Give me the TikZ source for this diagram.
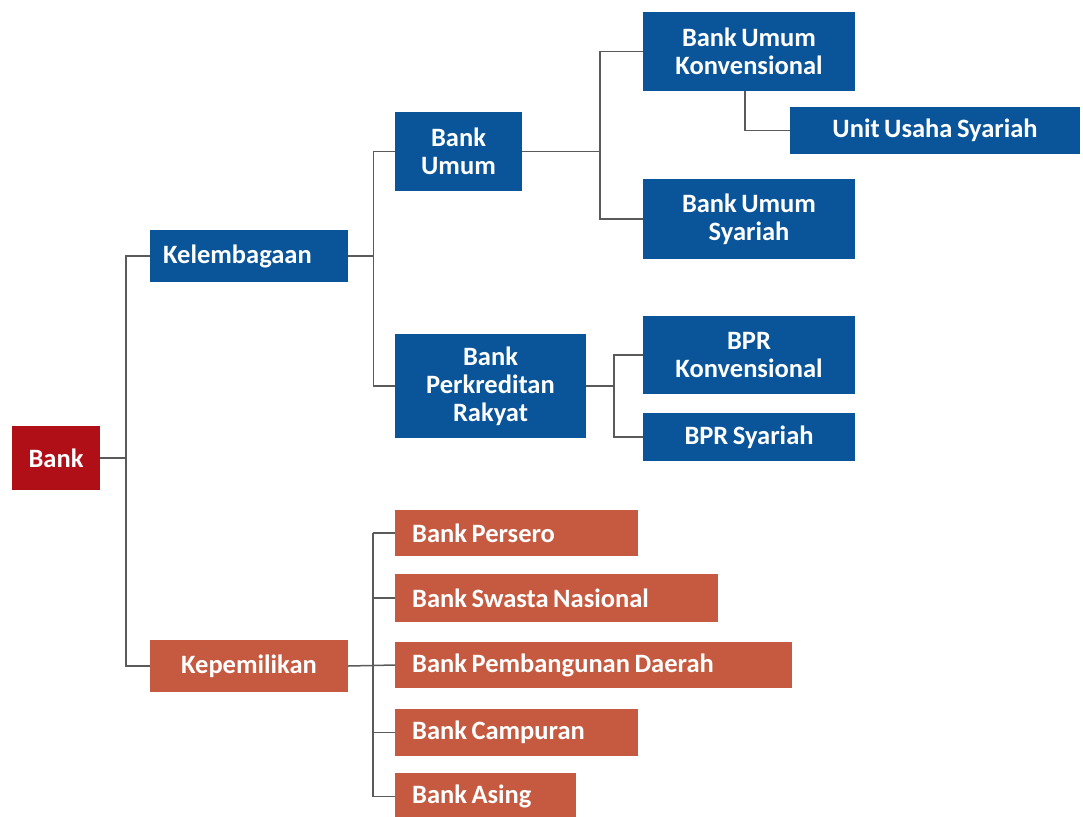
\documentclass[tikz,border=0pt]{standalone}
\usepackage{fontspec}
\setmainfont{Carlito}[WordSpace=0.75]
\definecolor{bblue}{HTML}{0A5499}
\definecolor{bred}{HTML}{B10F17}
\definecolor{borange}{HTML}{C55A40}
\definecolor{lgray}{HTML}{5A5A5A}
\tikzset{
  box/.style={draw=none, text=white, inner sep=0pt, align=center,
    font=\fontsize{26.5}{28}\selectfont\bfseries},
  bluebox/.style={box, fill=bblue},
  redbox/.style={box, fill=bred},
  orbox/.style={box, fill=borange},
  lefttext/.style={anchor=west, align=left, inner xsep=17pt,
    execute at begin node={\spaceskip=0pt\relax\xspaceskip=0pt\relax}},
  listbox/.style={box, fill=borange, lefttext},
  conn/.style={draw=lgray, line width=1.5pt}
}
\begin{document}
\begin{tikzpicture}[x=1pt,y=-1pt]
\useasboundingbox (0,0) rectangle (1083,816);
\node[redbox, minimum width=88pt, minimum height=64pt] (bank) at (56,458) {Bank};
\node[bluebox, lefttext, inner xsep=13pt, text width=172pt, minimum height=52pt] (kel) at (150,256) {Kelembagaan};
\node[orbox, minimum width=198pt, minimum height=52pt] (kep) at (249,666) {Kepemilikan};
\node[bluebox, minimum width=127pt, minimum height=79pt] (bu) at (458.5,151.5) {Bank\\Umum};
\node[bluebox, minimum width=191pt, minimum height=104pt] (bpr) at (490.5,386) {Bank\\Perkreditan\\Rakyat};
\node[bluebox, minimum width=212pt, minimum height=79pt] (buk) at (749,51.5) {Bank Umum\\Konvensional};
\node[bluebox, minimum width=290pt, minimum height=47pt] (uus) at (935,130.5) {Unit Usaha Syariah};
\node[bluebox, minimum width=212pt, minimum height=80pt] (bus) at (749,219) {Bank Umum\\Syariah};
\node[bluebox, minimum width=212pt, minimum height=78pt] (bprk) at (749,355) {BPR\\Konvensional};
\node[bluebox, minimum width=212pt, minimum height=48pt] (bprs) at (749,437) {BPR Syariah};
\node[listbox, text width=209pt, minimum height=46pt] (per) at (395,533) {Bank Persero};
\node[listbox, text width=289pt, minimum height=48pt] (swa) at (395,598) {Bank Swasta Nasional};
\node[listbox, text width=363pt, minimum height=46pt] (pem) at (395,665) {Bank Pembangunan Daerah};
\node[listbox, text width=209pt, minimum height=47pt] (cam) at (395,732.5) {Bank Campuran};
\node[listbox, text width=147pt, minimum height=47pt] (asi) at (395,796.5) {Bank Asing};
% connectors
\coordinate (b1) at ([xshift=26pt]bank.east);
\draw[conn] (bank.east) -- (b1);
\draw[conn] (b1) |- (kel.west);
\draw[conn] (b1) |- (kep.west);
\coordinate (k1) at ([xshift=25pt]kel.east);
\draw[conn] (kel.east) -- (k1);
\draw[conn] (k1) |- (bu.west);
\draw[conn] (k1) |- (bpr.west);
\coordinate (u1) at ([xshift=78pt]bu.east);
\draw[conn] (bu.east) -- (u1);
\draw[conn] (u1) |- (buk.west);
\draw[conn] (u1) |- (bus.west);
\coordinate (c1) at ([xshift=-4pt]buk.south);
\draw[conn] (c1) |- (uus.west);
\coordinate (p1) at ([xshift=28pt]bpr.east);
\draw[conn] (bpr.east) -- (p1);
\draw[conn] (p1) |- (bprk.west);
\draw[conn] (p1) |- (bprs.west);
\coordinate (m1) at ([xshift=25pt]kep.east);
\draw[conn] (kep.east) -- (pem.west);
\draw[conn] (m1 |- per.west) -- (per.west);
\draw[conn] (m1 |- swa.west) -- (swa.west);
\draw[conn] (m1 |- cam.west) -- (cam.west);
\draw[conn] (m1 |- per.west) |- (asi.west);
\end{tikzpicture}
\end{document}
